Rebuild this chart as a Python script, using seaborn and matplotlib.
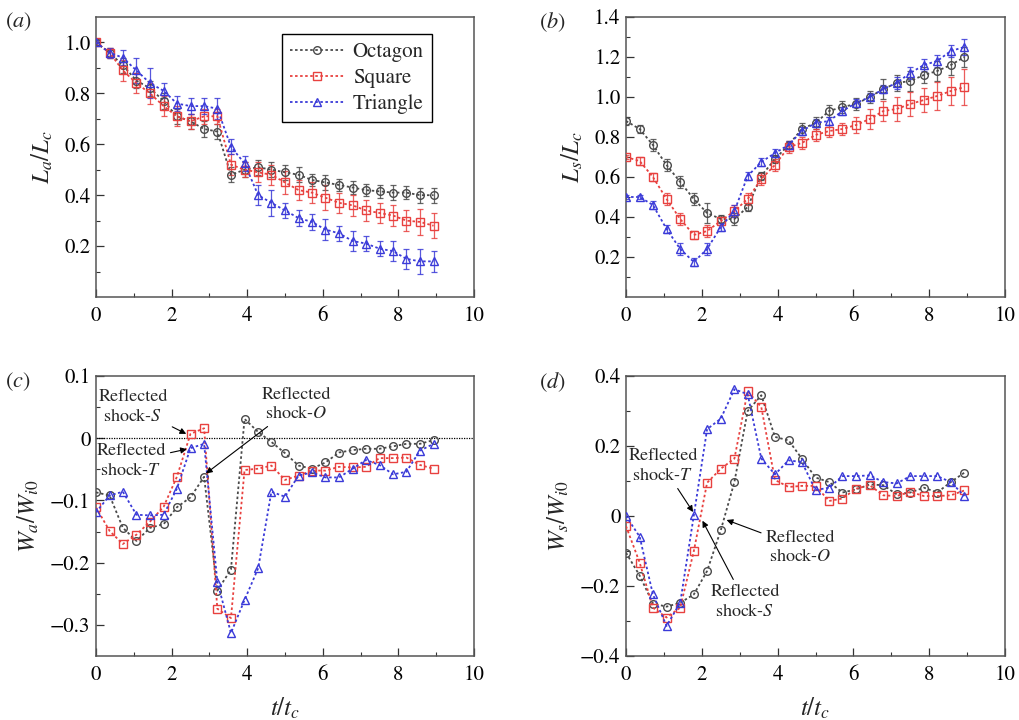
import matplotlib
matplotlib.use("Agg")
import matplotlib.pyplot as plt
import seaborn as sns
from matplotlib.ticker import FixedLocator, FuncFormatter

sns.set_theme(style="ticks")
SERIF = ["STIXGeneral", "Liberation Serif", "DejaVu Serif"]
plt.rcParams["font.family"] = SERIF
plt.rcParams["mathtext.fontset"] = "stix"
plt.rcParams["axes.unicode_minus"] = True

# Non-dimensional time t/t_c
t = [0.00, 0.36, 0.71, 1.07, 1.43, 1.79, 2.14, 2.50, 2.86, 3.21, 3.57, 3.93, 4.29,
     4.64, 5.00, 5.36, 5.71, 6.07, 6.43, 6.79, 7.14, 7.50, 7.86, 8.21, 8.57, 8.93]

shapes = ["Octagon", "Square", "Triangle"]

# (a) L_a / L_c
la_oct = [1.00, 0.96, 0.91, 0.85, 0.82, 0.77, 0.71, 0.69, 0.66, 0.65, 0.48, 0.50, 0.51,
          0.50, 0.49, 0.48, 0.46, 0.45, 0.44, 0.43, 0.42, 0.415, 0.41, 0.41, 0.40, 0.40]
la_sq = [1.00, 0.96, 0.89, 0.84, 0.80, 0.75, 0.71, 0.69, 0.71, 0.71, 0.52, 0.50, 0.49,
         0.48, 0.45, 0.42, 0.41, 0.39, 0.37, 0.36, 0.34, 0.33, 0.32, 0.30, 0.295, 0.28]
la_tri = [1.00, 0.96, 0.94, 0.89, 0.84, 0.81, 0.76, 0.75, 0.75, 0.74, 0.59, 0.525, 0.40,
          0.37, 0.34, 0.31, 0.295, 0.265, 0.25, 0.22, 0.21, 0.19, 0.18, 0.15, 0.14, 0.14]
la_oct_err = [0.01, 0.02, 0.03, 0.03, 0.03, 0.03, 0.03, 0.03, 0.03, 0.03, 0.03, 0.03, 0.03,
              0.03, 0.03, 0.03, 0.025, 0.03, 0.025, 0.025, 0.025, 0.025, 0.03, 0.025, 0.03, 0.03]
la_sq_err = [0.01, 0.02, 0.04, 0.04, 0.04, 0.04, 0.04, 0.03, 0.03, 0.03, 0.04, 0.03, 0.04,
             0.04, 0.045, 0.04, 0.04, 0.05, 0.04, 0.04, 0.04, 0.04, 0.04, 0.04, 0.05, 0.05]
la_tri_err = [0.01, 0.02, 0.03, 0.05, 0.06, 0.03, 0.03, 0.03, 0.03, 0.04, 0.03, 0.03, 0.04,
              0.05, 0.03, 0.03, 0.03, 0.04, 0.03, 0.04, 0.03, 0.03, 0.04, 0.04, 0.05, 0.04]

# (b) L_s / L_c
ls_oct = [0.88, 0.84, 0.76, 0.66, 0.575, 0.49, 0.42, 0.39, 0.39, 0.45, 0.605, 0.69, 0.76,
          0.84, 0.87, 0.93, 0.95, 0.965, 1.00, 1.04, 1.07, 1.08, 1.11, 1.13, 1.16, 1.20]
ls_sq = [0.70, 0.68, 0.60, 0.49, 0.39, 0.31, 0.33, 0.38, 0.43, 0.49, 0.59, 0.66, 0.75,
         0.77, 0.81, 0.83, 0.84, 0.86, 0.89, 0.93, 0.94, 0.965, 0.985, 1.005, 1.03, 1.05]
ls_tri = [0.50, 0.50, 0.46, 0.34, 0.24, 0.175, 0.24, 0.35, 0.43, 0.605, 0.675, 0.72, 0.76,
          0.83, 0.87, 0.88, 0.93, 0.97, 1.00, 1.04, 1.07, 1.12, 1.16, 1.18, 1.23, 1.25]
ls_oct_err = [0.02, 0.02, 0.03, 0.03, 0.03, 0.03, 0.05, 0.02, 0.03, 0.02, 0.02, 0.02, 0.02,
              0.03, 0.03, 0.03, 0.03, 0.03, 0.03, 0.05, 0.04, 0.05, 0.04, 0.05, 0.05, 0.05]
ls_sq_err = [0.01, 0.02, 0.02, 0.03, 0.03, 0.02, 0.03, 0.02, 0.03, 0.03, 0.03, 0.03, 0.03,
             0.03, 0.03, 0.03, 0.03, 0.04, 0.05, 0.05, 0.06, 0.06, 0.06, 0.07, 0.07, 0.09]
ls_tri_err = [0.01, 0.01, 0.02, 0.02, 0.03, 0.02, 0.03, 0.02, 0.03, 0.02, 0.02, 0.02, 0.02,
              0.02, 0.02, 0.02, 0.02, 0.02, 0.02, 0.02, 0.03, 0.03, 0.03, 0.03, 0.03, 0.04]

# (c) W_a / W_i0
wa_oct = [-0.087, -0.092, -0.144, -0.165, -0.144, -0.138, -0.111, -0.095, -0.062, -0.245,
          -0.211, 0.031, 0.010, -0.006, -0.024, -0.044, -0.049, -0.039, -0.023, -0.019,
          -0.017, -0.017, -0.013, -0.009, -0.009, -0.003]
wa_sq = [-0.111, -0.149, -0.170, -0.155, -0.134, -0.110, -0.062, 0.007, 0.016, -0.274,
         -0.289, -0.051, -0.049, -0.044, -0.067, -0.060, -0.052, -0.052, -0.046, -0.047,
         -0.046, -0.032, -0.032, -0.031, -0.043, -0.049]
wa_tri = [-0.119, -0.092, -0.086, -0.123, -0.124, -0.123, -0.081, -0.016, -0.009, -0.231,
          -0.313, -0.260, -0.209, -0.086, -0.094, -0.060, -0.055, -0.063, -0.063, -0.049,
          -0.035, -0.043, -0.058, -0.054, -0.020, -0.009]

# (d) W_s / W_i0
ws_oct = [-0.105, -0.170, -0.250, -0.259, -0.248, -0.224, -0.157, -0.041, 0.097, 0.300,
          0.345, 0.226, 0.216, 0.164, 0.110, 0.097, 0.067, 0.076, 0.090, 0.088, 0.062,
          0.067, 0.081, 0.067, 0.097, 0.124]
ws_sq = [-0.029, -0.133, -0.262, -0.290, -0.262, -0.100, 0.095, 0.135, 0.164, 0.357,
         0.311, 0.103, 0.083, 0.086, 0.086, 0.043, 0.050, 0.078, 0.088, 0.059, 0.057,
         0.069, 0.057, 0.057, 0.059, 0.073]
ws_tri = [0.000, -0.059, -0.224, -0.314, -0.248, 0.002, 0.248, 0.278, 0.362, 0.348,
          0.164, 0.119, 0.159, 0.154, 0.074, 0.081, 0.114, 0.114, 0.116, 0.097, 0.093,
          0.114, 0.114, 0.114, 0.097, 0.057]

colors = {"Octagon": "#4a4a4a", "Square": "#e8413f", "Triangle": "#3a3ad8"}
markers = {"Octagon": "o", "Square": "s", "Triangle": "^"}
dot = (0, (1.4, 1.4))

fig = plt.figure(figsize=(10.2, 7.2), dpi=100)
W, H = 1020.0, 720.0


def make_axes(left, top, right, bottom):
    return fig.add_axes([left / W, 1 - bottom / H, (right - left) / W, (bottom - top) / H])


ax_a = make_axes(96, 17, 474, 297)
ax_b = make_axes(626, 17, 1005, 297)
ax_c = make_axes(96, 376, 474, 656)
ax_d = make_axes(626, 376, 1005, 656)


def draw(ax, series, errors=None):
    for k, name in enumerate(shapes):
        c = colors[name]
        if errors is not None:
            ax.errorbar(t, series[k], yerr=errors[k], fmt="none", ecolor=c,
                        elinewidth=0.9, capsize=2.5, capthick=0.9, alpha=0.85, zorder=2)
        sns.lineplot(x=t, y=series[k], ax=ax, color=c, linestyle=dot, linewidth=1.3,
                     marker=markers[name], markersize=5.5 if name != "Triangle" else 6,
                     markerfacecolor="none", markeredgecolor=c, markeredgewidth=1.0,
                     label=name, zorder=3, legend=False)


def num_fmt(v, pos):
    if abs(v) < 1e-9:
        return "0"
    return f"{v:.1f}".replace("-", "\u2212")


def style(ax, ylim, ymaj, ymin, ylabel, xlabel=False):
    ax.set_xlim(0, 10)
    ax.set_ylim(*ylim)
    ax.xaxis.set_major_locator(FixedLocator([0, 2, 4, 6, 8, 10]))
    ax.xaxis.set_minor_locator(FixedLocator([1, 3, 5, 7, 9]))
    ax.xaxis.set_major_formatter(FuncFormatter(lambda v, p: f"{v:.0f}"))
    ax.yaxis.set_major_locator(FixedLocator(ymaj))
    ax.yaxis.set_minor_locator(FixedLocator(ymin))
    ax.yaxis.set_major_formatter(FuncFormatter(num_fmt))
    ax.tick_params(which="major", direction="in", length=6, width=0.9,
                   labelsize=15, colors="#333333", labelcolor="black", pad=7,
                   labelfontfamily=SERIF[0])
    ax.tick_params(which="minor", direction="in", length=3, width=0.8, colors="#333333")
    ax.tick_params(axis="y", pad=4)
    for s in ax.spines.values():
        s.set_visible(True)
        s.set_color("#555555")
        s.set_linewidth(1.1)
    ax.set_ylabel(ylabel, fontsize=18, labelpad=6)
    if xlabel:
        ax.set_xlabel(r"$t/t_c$", fontsize=18, labelpad=8)
    else:
        ax.set_xlabel("")


draw(ax_a, [la_oct, la_sq, la_tri], [la_oct_err, la_sq_err, la_tri_err])
draw(ax_b, [ls_oct, ls_sq, ls_tri], [ls_oct_err, ls_sq_err, ls_tri_err])
draw(ax_c, [wa_oct, wa_sq, wa_tri])
draw(ax_d, [ws_oct, ws_sq, ws_tri])

style(ax_a, (0, 1.1), [0.2, 0.4, 0.6, 0.8, 1.0], [0.1, 0.3, 0.5, 0.7, 0.9], r"$L_a/L_c$")
style(ax_b, (0, 1.4), [0.2, 0.4, 0.6, 0.8, 1.0, 1.2, 1.4],
      [0.1, 0.3, 0.5, 0.7, 0.9, 1.1, 1.3], r"$L_s/L_c$")
style(ax_c, (-0.35, 0.1), [-0.3, -0.2, -0.1, 0.0, 0.1],
      [-0.25, -0.15, -0.05, 0.05], r"$W_a/W_{i0}$", xlabel=True)
style(ax_d, (-0.4, 0.4), [-0.4, -0.2, 0.0, 0.2, 0.4],
      [-0.3, -0.1, 0.1, 0.3], r"$W_s/W_{i0}$", xlabel=True)

ax_c.axhline(0, color="black", linestyle=(0, (1, 1)), linewidth=0.9, zorder=1)

handles, labels = ax_a.get_legend_handles_labels()
leg = ax_a.legend(handles, labels, loc="upper right", bbox_to_anchor=(0.889, 0.94),
                  fontsize=15, frameon=True, fancybox=False, borderaxespad=0,
                  framealpha=1, edgecolor="black", handlelength=2.6, handletextpad=0.4,
                  labelspacing=0.3, borderpad=0.4)
leg.get_frame().set_linewidth(1.0)
for txt in leg.get_texts():
    txt.set_fontfamily(SERIF)
    txt.set_fontsize(15)

arrow = dict(arrowstyle="-|>", color="black", lw=0.8, mutation_scale=9,
             shrinkA=1, shrinkB=1)
note = dict(ha="center", va="center", fontsize=13, linespacing=1.2,
            fontfamily=SERIF[0], arrowprops=arrow)

ax_c.annotate("Reflected\nshock-$S$", xy=(2.42, 0.006), xytext=(0.98, 0.05), **note)
ax_c.annotate("Reflected\nshock-$T$", xy=(2.44, -0.017), xytext=(0.93, -0.037), **note)
ax_c.annotate("Reflected\nshock-$O$", xy=(2.88, -0.058), xytext=(5.3, 0.054), **note)

ax_d.annotate("Reflected\nshock-$T$", xy=(1.79, 0.008), xytext=(0.98, 0.142), **note)
ax_d.annotate("Reflected\nshock-$S$", xy=(2.0, -0.01), xytext=(3.14, -0.245), **note)
ax_d.annotate("Reflected\nshock-$O$", xy=(2.62, -0.01), xytext=(4.6, -0.09), **note)

for txt, x, y in [("($a$)", 18, 22), ("($b$)", 552, 22), ("($c$)", 18, 382), ("($d$)", 552, 382)]:
    fig.text(x / W, 1 - y / H, txt, fontsize=16, ha="center", va="center",
             fontfamily=SERIF[0])

fig.savefig("out.png", dpi=100)
